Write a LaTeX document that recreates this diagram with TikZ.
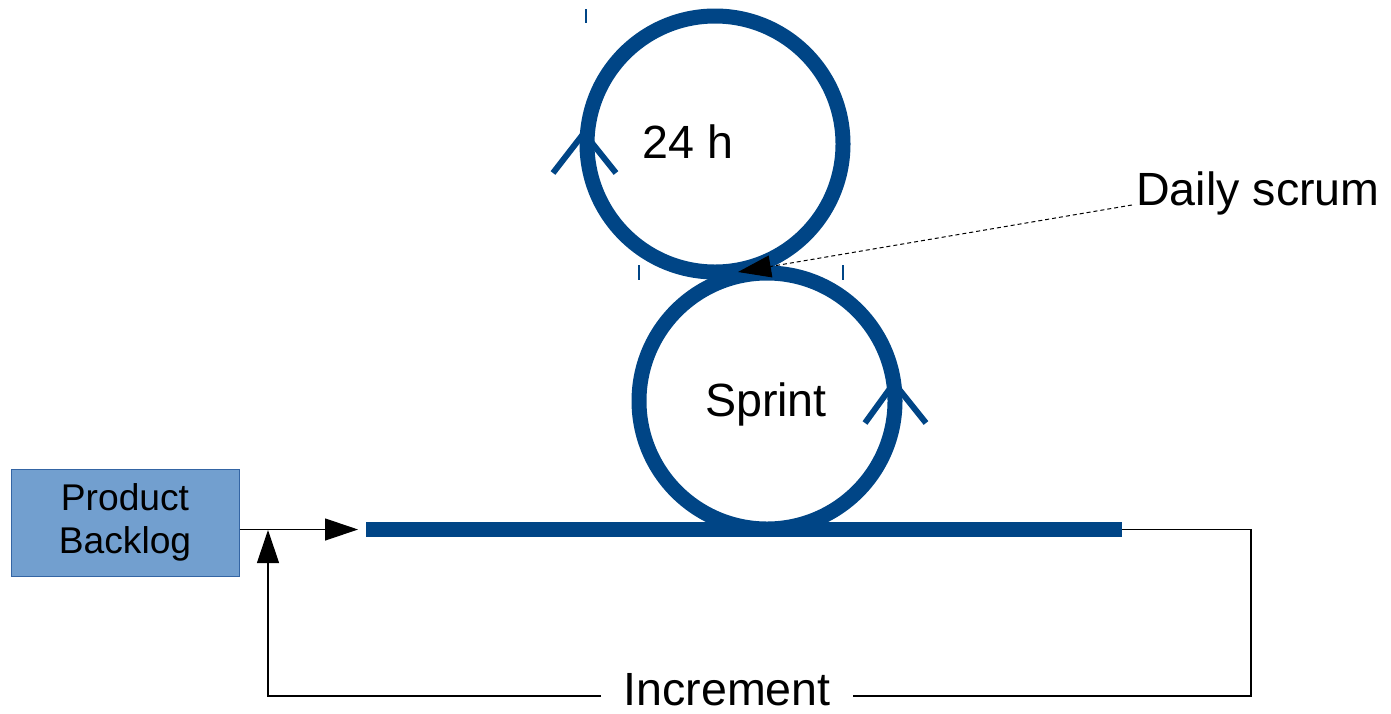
\documentclass[tikz,border=0pt]{standalone}
\usepackage{fontspec}
\setmainfont{Liberation Sans}
\usetikzlibrary{arrows.meta}
\definecolor{scrumblue}{HTML}{004586}
\definecolor{pbfill}{HTML}{729FCF}
\definecolor{pbdraw}{HTML}{3465A4}
\begin{document}
\begin{tikzpicture}[x=0.5pt,y=-0.5pt,
  bigtext/.style={font=\fontsize{23.3pt}{27pt}\selectfont, inner sep=0pt, anchor=base},
  loopline/.style={draw=scrumblue, line width=7.5pt},
  chevron/.style={draw=scrumblue, line width=3pt, line join=miter},
  tickmark/.style={draw=scrumblue, line width=0.75pt},
  conn/.style={draw=black, line width=0.6pt},
  tip/.style={-{Triangle[length=16.5pt,width=11pt]}},
  pbbox/.style={draw=pbdraw, fill=pbfill, line width=0.5pt, minimum width=114pt, minimum height=53.5pt,
    align=center, font=\fontsize{18.6pt}{21.5pt}\selectfont, inner sep=0pt}
]
\useasboundingbox (0,0) rectangle (1391,713);

% loops
\draw[loopline] (715,144) circle[radius=64pt];
\draw[loopline] (767,401) circle[radius=64pt];
\coordinate (lineL) at (366,529.5);
\coordinate (lineR) at (1122,529.5);
\draw[loopline] (lineL) -- (lineR);

% chevrons
\draw[chevron] (553,173) -- (584,133) -- (616,173);
\draw[chevron] (865,423) -- (894,383) -- (926,423);

% ticks
\draw[tickmark] (586,9) -- (586,23);
\draw[tickmark] (639,265) -- (639,280);
\draw[tickmark] (843,265) -- (843,280);

% texts
\node[bigtext] (h24) at (688,158) {24 h};
\node[bigtext] (sprint) at (766,416) {Sprint};
\node[bigtext, inner sep=2pt] (ds) at (1258,205) {Daily scrum};
\node[bigtext, inner xsep=11pt] (incr) at (727,705) {Increment};
\node[pbbox] (pb) at (125,522.5) {Product\\Backlog};

% connectors
\coordinate (dstip) at (738,272);
\draw[conn, line width=0.5pt, dash pattern=on 2pt off 1.5pt, tip] (ds.base west) -- (dstip);
\draw[conn, tip, shorten >=4pt] (pb.east |- lineL) -- (lineL);
\coordinate (fbcorner) at (1251,696);
\coordinate (fbtip) at (268,530);
\draw[conn] (lineR) -- (fbcorner |- lineR) -- (fbcorner) -- (incr.east |- fbcorner);
\draw[conn, tip] (incr.west |- fbcorner) -| (fbtip);
\end{tikzpicture}
\end{document}
